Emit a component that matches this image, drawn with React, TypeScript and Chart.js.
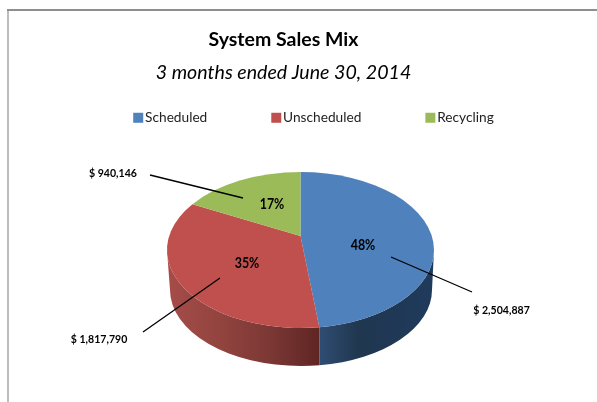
import React, { useEffect, useRef } from "react";
import { Chart, registerables } from "chart.js";

Chart.register(...registerables);

const categories = ["Scheduled", "Unscheduled", "Recycling"];
const salesValues = [2504887, 1817790, 940146];
const percentLabels = ["48%", "35%", "17%"];
const amountLabels = ["$ 2,504,887", "$ 1,817,790", "$ 940,146"];
const sliceColors = ["#4F81BD", "#C0504D", "#9BBB59"];
const titleText = "System Sales Mix";
const subtitleText = "3 months ended June 30, 2014";

const FONT = "Lato, 'Noto Sans', sans-serif";

// View of the tilted pie
const VIEW = { cx: 300.5, cy: 250, rx: 133.5, ry: 78, tilt: 0.18, warp: 0.033 };
const FLOOR = { cx: 301, cy: 290, rx: 131, ry: 76 };
const WALLS: ({ x0: number; x1: number; stops: string[] } | null)[] = [
  { x0: 320, x1: 434, stops: ["#2F4C72", "#20374F", "#1F3856", "#1F3B5C"] },
  { x0: 167, x1: 320, stops: ["#A64C49", "#93443F", "#7C3835", "#5E2523"] },
  null,
];
const PERCENT_POS = [
  { x: 363, y: 245 },
  { x: 247, y: 263 },
  { x: 272, y: 204 },
];
const AMOUNT_POS = [
  { x: 501.5, y: 310 },
  { x: 99, y: 339 },
  { x: 113, y: 173 },
];
const LEADERS = [
  [391, 257, 472, 292],
  [220, 278, 143, 332],
  [243, 198, 150, 175],
];
const LEGEND_SHIFT = { x: 32.5, y: -59 };

function project(angle: number) {
  const a = ((angle % (2 * Math.PI)) + 2 * Math.PI) % (2 * Math.PI);
  const theta = a + VIEW.warp * Math.sqrt(Math.abs(Math.sin(a / 2)));
  const u = Math.sin(theta);
  const v = Math.cos(theta);
  const d = VIEW.tilt;
  const w = 1 + d * v;
  return Math.atan2(-(v + d) / w, (u * Math.sqrt(1 - d * d)) / w);
}

function drawCondensed(ctx: any, text: string, x: number, y: number, sx: number) {
  ctx.save();
  ctx.translate(x, y);
  ctx.scale(sx, 1);
  ctx.fillText(text, 0, 0);
  ctx.restore();
}

const framePlugin = {
  id: "frame",
  beforeDraw(chart: any) {
    const { ctx, width, height } = chart;
    ctx.save();
    ctx.fillStyle = "#BDBDBD";
    ctx.fillRect(7, 9, 2, height - 9);
    ctx.fillStyle = "#8F8F8F";
    ctx.fillRect(7, 9, width - 7, 2);
    ctx.restore();
  },
};

const shiftLegendPlugin = {
  id: "shiftLegend",
  afterLayout(chart: any) {
    const lg = chart.legend;
    lg.left += LEGEND_SHIFT.x;
    lg.right += LEGEND_SHIFT.x;
    lg.top += LEGEND_SHIFT.y;
    lg.bottom += LEGEND_SHIFT.y;
    lg.fit();
    lg.adjustHitBoxes();
  },
  afterDraw(chart: any) {
    const { ctx } = chart;
    const lg = chart.legend;
    const midY = lg.top + lg.options.labels.padding + lg.legendHitBoxes[0].height / 2;
    ctx.save();
    lg.legendHitBoxes.forEach((h: any, i: number) => {
      ctx.fillStyle = sliceColors[i];
      ctx.fillRect(h.left - 5, midY - 5, 10, 10);
    });
    ctx.restore();
  },
};

const pie3dPlugin = {
  id: "pie3d",
  beforeDatasetDraw(chart: any, args: any) {
    const { ctx } = chart;
    const arcs = chart.getDatasetMeta(args.index).data;
    const ranges = arcs.map((a: any) => {
      const s = project(a.startAngle + Math.PI / 2);
      let e = project(a.endAngle + Math.PI / 2);
      while (e <= s) e += Math.PI * 2;
      return [s, e];
    });
    const apexY = VIEW.cy - VIEW.ry * VIEW.tilt;
    ctx.save();
    // side wall
    arcs.forEach((_: any, i: number) => {
      const wall = WALLS[i];
      if (!wall) return;
      const a = Math.max(ranges[i][0], 0);
      const b = Math.min(ranges[i][1], Math.PI);
      if (b <= a) return;
      const g = ctx.createLinearGradient(wall.x0, 0, wall.x1, 0);
      wall.stops.forEach((c, k) => g.addColorStop(k / (wall.stops.length - 1), c));
      ctx.beginPath();
      ctx.ellipse(VIEW.cx, VIEW.cy, VIEW.rx, VIEW.ry, 0, a, b, false);
      ctx.ellipse(FLOOR.cx, FLOOR.cy, FLOOR.rx, FLOOR.ry, 0, b, a, true);
      ctx.closePath();
      ctx.fillStyle = g;
      ctx.fill();
    });
    // top face
    arcs.forEach((a: any, i: number) => {
      ctx.beginPath();
      ctx.moveTo(VIEW.cx, apexY);
      ctx.ellipse(VIEW.cx, VIEW.cy, VIEW.rx, VIEW.ry, 0, ranges[i][0], ranges[i][1], false);
      ctx.closePath();
      ctx.fillStyle = a.options.backgroundColor;
      ctx.fill();
    });
    ctx.restore();
    return false;
  },
  afterDatasetsDraw(chart: any) {
    const { ctx } = chart;
    ctx.save();
    ctx.strokeStyle = "#000";
    ctx.lineWidth = 1.3;
    LEADERS.forEach(([x0, y0, x1, y1]) => {
      ctx.beginPath();
      ctx.moveTo(x0, y0);
      ctx.lineTo(x1, y1);
      ctx.stroke();
    });
    ctx.fillStyle = "#000";
    ctx.textAlign = "center";
    ctx.textBaseline = "middle";
    ctx.font = `bold 15px ${FONT}`;
    percentLabels.forEach((t, i) => drawCondensed(ctx, t, PERCENT_POS[i].x, PERCENT_POS[i].y, 0.83));
    ctx.font = `bold 12px ${FONT}`;
    amountLabels.forEach((t, i) => drawCondensed(ctx, t, AMOUNT_POS[i].x, AMOUNT_POS[i].y, 0.88));
    ctx.restore();
  },
};

export default function App() {
  const ref = useRef<HTMLCanvasElement>(null);
  useEffect(() => {
    const chart = new Chart(ref.current!, {
      type: "pie",
      data: {
        labels: categories,
        datasets: [{ data: salesValues, backgroundColor: sliceColors, borderWidth: 0 }],
      },
      options: {
        responsive: false,
        animation: false,
        layout: { padding: { top: 28, right: 30, left: 0, bottom: 10 } },
        plugins: {
          tooltip: { enabled: false },
          title: {
            display: true,
            text: titleText,
            color: "#000",
            font: { family: FONT, size: 19.5, weight: "bold" },
            padding: { top: 0, bottom: 10 },
          },
          subtitle: {
            display: true,
            text: subtitleText,
            color: "#000",
            font: { family: FONT, size: 19.6, style: "italic", weight: "normal" },
            padding: { top: 0, bottom: 16 },
          },
          legend: {
            position: "top",
            labels: {
              boxWidth: 0,
              boxHeight: 0,
              padding: 69,
              color: "#222",
              font: { family: FONT, size: 13.7 },
            },
          },
        },
      },
      plugins: [framePlugin, shiftLegendPlugin, pie3dPlugin],
    } as any);
    return () => chart.destroy();
  }, []);
  return (
    <div style={{ position: "absolute", left: 0, top: 0, width: 597, height: 402, background: "#fff" }}>
      <canvas ref={ref} width={597} height={402} style={{ display: "block" }} />
    </div>
  );
}
